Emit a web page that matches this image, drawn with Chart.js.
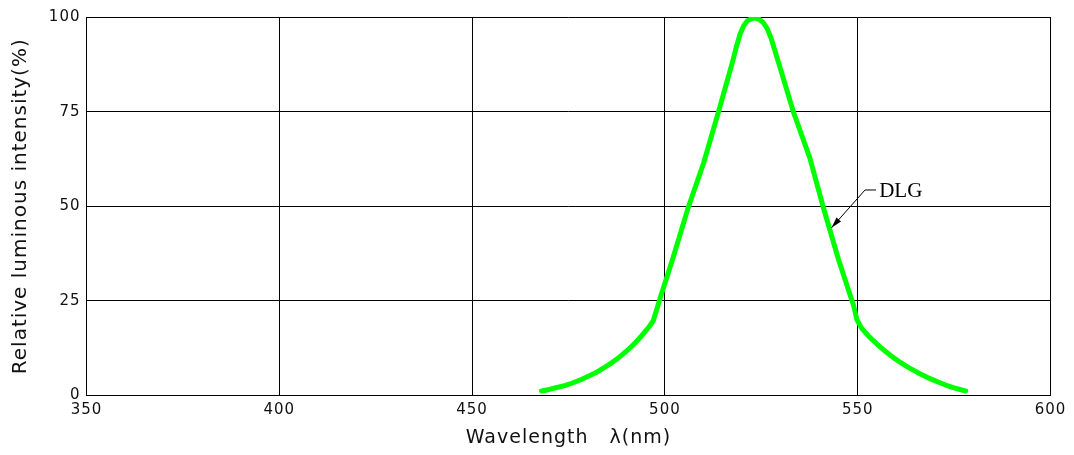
<!DOCTYPE html>
<html>
<head>
<meta charset="utf-8">
<title>Relative luminous intensity vs wavelength</title>
<script src="https://cdn.jsdelivr.net/npm/chart.js@4/dist/chart.umd.min.js"></script>
<style>
  html, body { margin: 0; padding: 0; background: #ffffff; }
  #wrap { width: 1074px; height: 455px; }
</style>
</head>
<body>
<div id="wrap"><canvas id="spectrum" width="1074" height="455"></canvas></div>
<script>
// Spectral response of the DLG emitter (wavelength in nm, intensity in %)
const wavelengths = [468, 470, 472, 474, 476, 478, 480, 482, 484, 486, 488, 490, 492, 494, 496, 497,
                     499, 502, 506, 510, 514, 517.5, 518.5, 519.5, 520.5, 521.5, 523, 524.5, 525.5,
                     526.5, 527.5, 530, 533.3, 537.6, 541, 545, 549, 549.8,
                     551, 553, 555, 557, 559, 561, 563, 566, 568, 571, 573, 575, 578];
const intensity   = [1.2, 1.6, 2.1, 2.6, 3.3, 4.1, 5.0, 6.0, 7.2, 8.5, 10.0, 11.7, 13.6, 15.8, 18.3, 19.8,
                     26.5, 36.0, 49.5, 61.3, 75.3, 88.0, 92.0, 95.5, 97.8, 99.1, 99.8, 99.4, 98.5,
                     97.0, 94.5, 86.2, 75.0, 62.7, 50.0, 36.0, 23.5, 20.0,
                     17.8, 15.5, 13.6, 11.8, 10.2, 8.8, 7.5, 5.8, 4.8, 3.5, 2.7, 2.0, 1.2];

const xTicks = [350, 400, 450, 500, 550, 600];
const yTicks = [0, 25, 50, 75, 100];

const seriesLabel = 'DLG';
// Leader for the series label: label anchor, elbow and arrow tip (data units)
const labelAt  = [555.3, 54.3];
const elbowAt  = [551.9, 54.3];
const arrowTip = [543.2, 44.3];

const xTitle = 'Wavelength   \u03BB(nm)';
const yTitle = 'Relative luminous intensity(%)';

const points = wavelengths.map((w, i) => ({ x: w, y: intensity[i] }));

// Wide CAD-like lettering for the axis text
const spacingPlugin = {
  id: 'spacing',
  beforeDraw(chart) { chart.ctx.letterSpacing = '1px'; }
};

// Series label with a leader line and filled arrowhead
const leaderPlugin = {
  id: 'leader',
  afterDatasetsDraw(chart) {
    const { ctx, scales: { x, y } } = chart;
    const lx = x.getPixelForValue(labelAt[0]), ly = y.getPixelForValue(labelAt[1]);
    const ex = x.getPixelForValue(elbowAt[0]), ey = y.getPixelForValue(elbowAt[1]);
    const tx = x.getPixelForValue(arrowTip[0]), ty = y.getPixelForValue(arrowTip[1]);
    ctx.save();
    ctx.letterSpacing = '0px';
    ctx.strokeStyle = '#000';
    ctx.fillStyle = '#000';
    ctx.lineWidth = 1;
    ctx.beginPath();
    ctx.moveTo(lx - 2, ly);
    ctx.lineTo(ex, ey);
    ctx.lineTo(tx, ty);
    ctx.stroke();
    const ang = Math.atan2(ty - ey, tx - ex);
    const len = 11, half = 3;
    ctx.beginPath();
    ctx.moveTo(tx, ty);
    ctx.lineTo(tx - len * Math.cos(ang) + half * Math.sin(ang), ty - len * Math.sin(ang) - half * Math.cos(ang));
    ctx.lineTo(tx - len * Math.cos(ang) - half * Math.sin(ang), ty - len * Math.sin(ang) + half * Math.cos(ang));
    ctx.closePath();
    ctx.fill();
    ctx.font = '21px "Liberation Serif", "Times New Roman", serif';
    ctx.textAlign = 'left';
    ctx.textBaseline = 'alphabetic';
    ctx.fillText(seriesLabel, lx + 1, ly + 7);
    ctx.restore();
  }
};

new Chart(document.getElementById('spectrum'), {
  type: 'line',
  data: {
    datasets: [{
      label: seriesLabel,
      data: points,
      borderColor: '#00ff00',
      borderWidth: 5,
      pointRadius: 0,
      fill: false,
      tension: 0,
      borderCapStyle: 'round',
      borderJoinStyle: 'round'
    }]
  },
  options: {
    responsive: false,
    animation: false,
    devicePixelRatio: 1,
    layout: { padding: { top: 17, right: 23.5, bottom: 0, left: 0 } },
    plugins: {
      legend: { display: false },
      tooltip: { enabled: false }
    },
    scales: {
      x: {
        type: 'linear',
        min: xTicks[0],
        max: xTicks[xTicks.length - 1],
        afterFit(s) { s.height = 59.5; },
        afterBuildTicks(s) { s.ticks = xTicks.map(v => ({ value: v })); },
        grid: { color: '#000', lineWidth: 1, drawTicks: false },
        border: { color: '#000', width: 1 },
        ticks: {
          padding: 6,
          color: '#111',
          maxRotation: 0,
          font: { family: '"DejaVu Sans", sans-serif', size: 15, lineHeight: 1.2 }
        },
        title: {
          display: true,
          text: xTitle,
          color: '#111',
          padding: { top: 0, bottom: 7 },
          font: { family: '"DejaVu Sans", sans-serif', size: 19, lineHeight: 1 }
        }
      },
      y: {
        min: yTicks[0],
        max: yTicks[yTicks.length - 1],
        afterFit(s) { s.width = 86.5; },
        afterBuildTicks(s) { s.ticks = yTicks.map(v => ({ value: v })); },
        grid: { color: '#000', lineWidth: 1, drawTicks: false },
        border: { color: '#000', width: 1 },
        ticks: {
          padding: 6,
          color: '#111',
          font: { family: '"DejaVu Sans", sans-serif', size: 15, lineHeight: 1.2 }
        },
        title: {
          display: true,
          text: yTitle,
          color: '#111',
          padding: { top: 11, bottom: 0 },
          font: { family: '"DejaVu Sans", sans-serif', size: 20, lineHeight: 1 }
        }
      }
    }
  },
  plugins: [spacingPlugin, leaderPlugin]
});
</script>
</body>
</html>
